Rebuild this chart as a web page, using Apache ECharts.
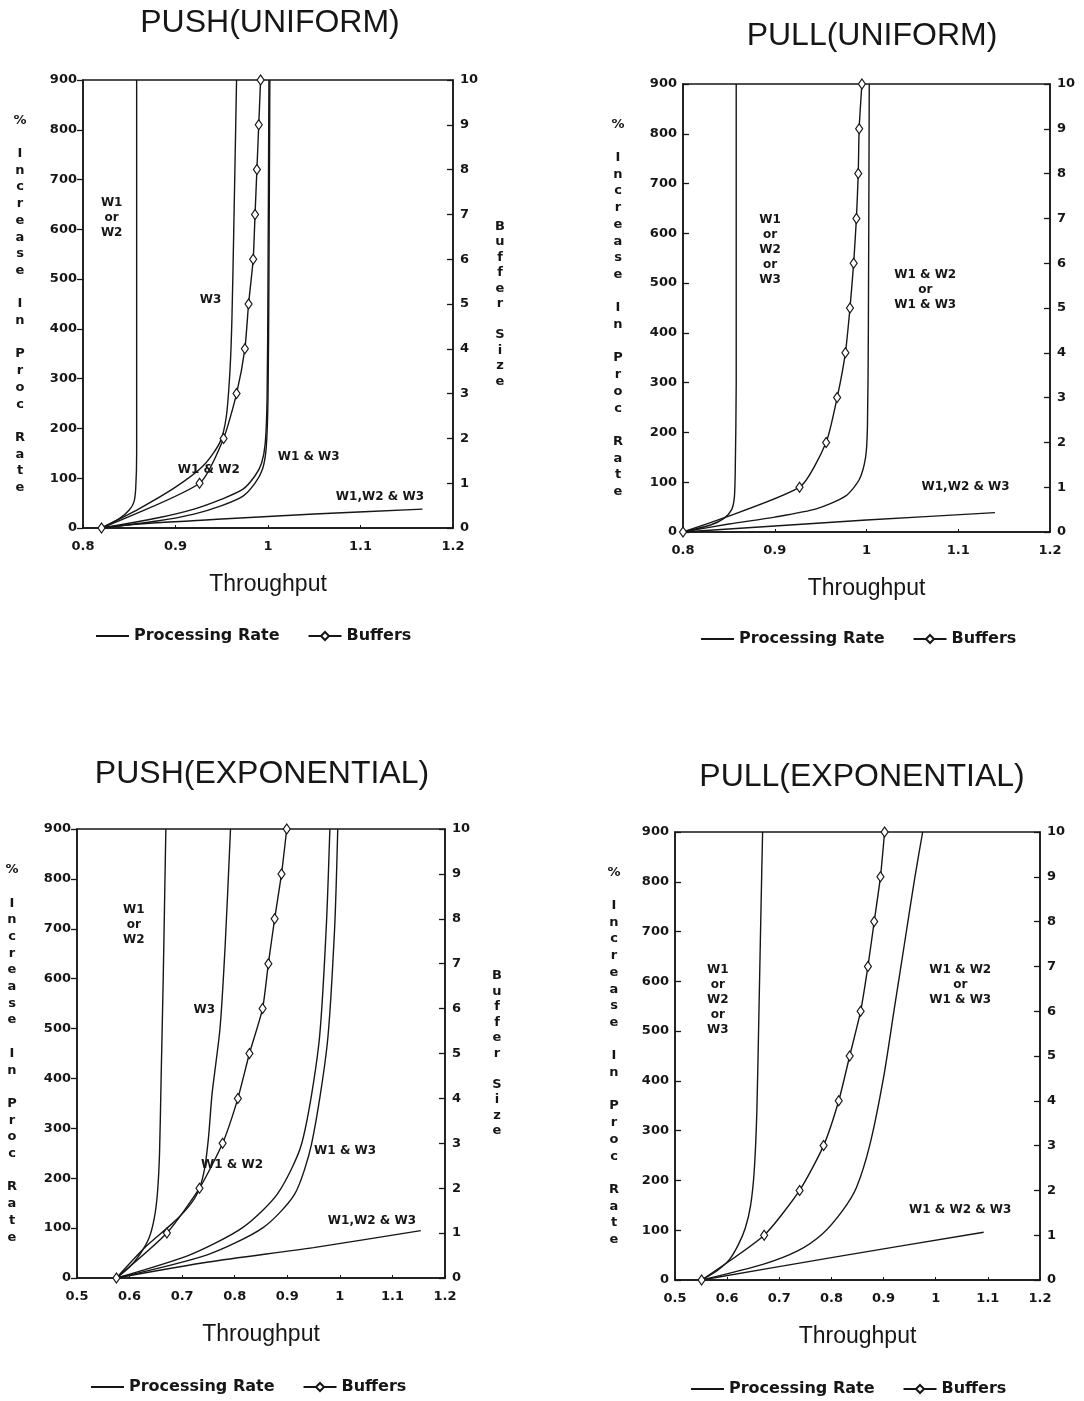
<!DOCTYPE html>
<html>
<head>
<meta charset="utf-8">
<title>Push / Pull throughput</title>
<script src="https://cdn.jsdelivr.net/npm/echarts@6/dist/echarts.min.js"></script>
<style>
  html, body { margin: 0; padding: 0; background: #fff; }
  #chart { width: 1084px; height: 1401px; }
</style>
</head>
<body>
<div id="chart"></div>
<script>
// axis ticks
const leftTicks = [0, 100, 200, 300, 400, 500, 600, 700, 800, 900];
const rightTicks = [0, 1, 2, 3, 4, 5, 6, 7, 8, 9, 10];
const xTicksUniform = [0.8, 0.9, 1, 1.1, 1.2];
const xTicksExp = [0.5, 0.6, 0.7, 0.8, 0.9, 1, 1.1, 1.2];

// PUSH(UNIFORM) : [throughput, % increase]  /  buffers : [throughput, buffer size]
const pushUniW1orW2 = [[0.82, 0], [0.84, 20], [0.85, 36], [0.855, 52], [0.857, 80], [0.858, 150], [0.858, 900]];
const pushUniW3 = [[0.82, 0], [0.86, 38], [0.9, 82], [0.93, 125], [0.948, 172], [0.955, 225], [0.959, 320], [0.961, 420], [0.963, 600], [0.966, 900]];
const pushUniW1W2 = [[0.82, 0], [0.88, 20], [0.92, 38], [0.95, 58], [0.973, 78], [0.986, 105], [0.993, 130], [0.997, 170], [0.999, 260], [1.0, 500], [1.001, 900]];
const pushUniW1W3 = [[0.82, 0], [0.88, 14], [0.92, 28], [0.95, 45], [0.973, 64], [0.986, 90], [0.994, 118], [0.998, 160], [1.0, 260], [1.001, 500], [1.002, 900]];
const pushUniAll = [[0.82, 0], [0.86, 8], [0.95, 18], [1.05, 28], [1.167, 38]];
const pushUniBuffers = [[0.82, 0], [0.926, 1], [0.952, 2], [0.966, 3], [0.975, 4], [0.979, 5], [0.984, 6], [0.986, 7], [0.988, 8], [0.99, 9], [0.992, 10]];
const pushUniNotes = [[0.831, 623, 'W1\nor\nW2'], [0.938, 458, 'W3'], [0.936, 117, 'W1 & W2'], [1.044, 143, 'W1 & W3'], [1.121, 62, 'W1,W2 & W3']];

// PULL(UNIFORM)
const pullUniW123 = [[0.8, 0], [0.83, 14], [0.845, 28], [0.853, 45], [0.856, 70], [0.857, 130], [0.858, 300], [0.858, 900]];
const pullUniW1W2orW1W3 = [[0.8, 0], [0.85, 16], [0.9, 30], [0.946, 47], [0.977, 72], [0.992, 105], [0.999, 150], [1.001, 210], [1.002, 400], [1.003, 900]];
const pullUniAll = [[0.8, 0], [0.9, 12], [1.0, 24], [1.14, 39]];
const pullUniBuffers = [[0.8, 0], [0.927, 1], [0.956, 2], [0.968, 3], [0.977, 4], [0.982, 5], [0.986, 6], [0.989, 7], [0.991, 8], [0.992, 9], [0.995, 10]];
const pullUniNotes = [[0.895, 567, 'W1\nor\nW2\nor\nW3'], [1.064, 486, 'W1 & W2\nor\nW1 & W3'], [1.108, 90, 'W1,W2 & W3']];

// PUSH(EXPONENTIAL)
const pushExpW1orW2 = [[0.575, 0], [0.6, 22], [0.62, 48], [0.637, 80], [0.647, 120], [0.653, 170], [0.657, 250], [0.66, 400], [0.664, 600], [0.669, 900]];
const pushExpW3 = [[0.575, 0], [0.63, 62], [0.68, 108], [0.71, 140], [0.73, 172], [0.742, 215], [0.75, 280], [0.757, 370], [0.772, 500], [0.782, 670], [0.792, 900]];
const pushExpW1W2 = [[0.575, 0], [0.716, 47], [0.815, 101], [0.881, 168], [0.927, 268], [0.96, 469], [0.974, 700], [0.981, 900]];
const pushExpW1W3 = [[0.575, 0], [0.749, 47], [0.854, 101], [0.914, 168], [0.946, 268], [0.976, 469], [0.99, 700], [0.996, 900]];
const pushExpAll = [[0.575, 0], [0.75, 32], [0.95, 61], [1.154, 95]];
const pushExpBuffers = [[0.575, 0], [0.671, 1], [0.733, 2], [0.777, 3], [0.806, 4], [0.828, 5], [0.853, 6], [0.864, 7], [0.876, 8], [0.889, 9], [0.899, 10]];
const pushExpNotes = [[0.608, 708, 'W1\nor\nW2'], [0.742, 537, 'W3'], [0.795, 226, 'W1 & W2'], [1.01, 255, 'W1 & W3'], [1.061, 114, 'W1,W2 & W3']];

// PULL(EXPONENTIAL)
const pullExpW123 = [[0.551, 0], [0.58, 18], [0.605, 42], [0.622, 72], [0.635, 105], [0.645, 150], [0.652, 220], [0.657, 340], [0.661, 540], [0.665, 750], [0.668, 900]];
const pullExpW1W2orW1W3 = [[0.551, 0], [0.67, 32], [0.736, 59], [0.782, 92], [0.821, 139], [0.848, 186], [0.874, 273], [0.9, 407], [0.92, 541], [0.94, 675], [0.96, 809], [0.975, 900]];
const pullExpAll = [[0.551, 0], [0.8, 45], [1.092, 96]];
const pullExpBuffers = [[0.551, 0], [0.671, 1], [0.739, 2], [0.785, 3], [0.814, 4], [0.835, 5], [0.856, 6], [0.87, 7], [0.882, 8], [0.894, 9], [0.902, 10]];
const pullExpNotes = [[0.582, 562, 'W1\nor\nW2\nor\nW3'], [1.047, 592, 'W1 & W2\nor\nW1 & W3'], [1.047, 141, 'W1 & W2 & W3']];

const INK = '#161616';
const BOLD = { fontFamily: 'DejaVu Sans', fontWeight: 'bold', color: INK };

// stacked letters, like the typed axis titles
const stack = (s) => s.split(' ').map((w) => w.split('').join('\n')).join('\n\n');

const panels = [
  {
    title: 'PUSH(UNIFORM)', titleX: 270, titleY: 7,
    grid: { left: 83, top: 80, width: 370, height: 448 },
    xTicks: xTicksUniform, leftOut: true, leftNameGap: 63, rightNameGap: 47,
    legend: { left: 95, top: 628 },
    curves: [pushUniW1orW2, pushUniW3, pushUniW1W2, pushUniW1W3, pushUniAll],
    buffers: pushUniBuffers, notes: pushUniNotes,
  },
  {
    title: 'PULL(UNIFORM)', titleX: 872, titleY: 20,
    grid: { left: 683, top: 84, width: 367, height: 448 },
    xTicks: xTicksUniform, leftOut: false, leftNameGap: 65, rightNameGap: null,
    legend: { left: 700, top: 631 },
    curves: [pullUniW123, pullUniW1W2orW1W3, pullUniAll],
    buffers: pullUniBuffers, notes: pullUniNotes,
  },
  {
    title: 'PUSH(EXPONENTIAL)', titleX: 262, titleY: 758,
    grid: { left: 77, top: 829, width: 368, height: 449 },
    xTicks: xTicksExp, leftOut: true, leftNameGap: 65, rightNameGap: 52,
    legend: { left: 90, top: 1379 },
    curves: [pushExpW1orW2, pushExpW3, pushExpW1W2, pushExpW1W3, pushExpAll],
    buffers: pushExpBuffers, notes: pushExpNotes,
  },
  {
    title: 'PULL(EXPONENTIAL)', titleX: 862, titleY: 761,
    grid: { left: 675, top: 832, width: 365, height: 448 },
    xTicks: xTicksExp, leftOut: false, leftNameGap: 61, rightNameGap: null,
    legend: { left: 690, top: 1381 },
    curves: [pullExpW123, pullExpW1W2orW1W3, pullExpAll],
    buffers: pullExpBuffers, notes: pullExpNotes,
  },
];

const option = {
  animation: false,
  backgroundColor: '#fff',
  title: [],
  grid: [],
  xAxis: [],
  yAxis: [],
  legend: [],
  series: [],
};

panels.forEach((p, i) => {
  option.title.push({
    text: p.title,
    left: p.titleX,
    top: p.titleY,
    textAlign: 'center',
    padding: 0,
    textStyle: { fontFamily: 'Liberation Sans', fontSize: 32, fontWeight: 'normal', color: INK },
  });

  option.grid.push({
    ...p.grid,
    show: true,
    borderColor: INK,
    borderWidth: 1.5,
    backgroundColor: 'transparent',
    outerBoundsMode: 'none',
  });

  option.xAxis.push({
    type: 'value',
    gridIndex: i,
    min: p.xTicks[0],
    max: p.xTicks[p.xTicks.length - 1],
    interval: 0.1,
    axisLine: { show: true, lineStyle: { color: INK, width: 1.5 } },
    axisTick: { show: true, inside: true, length: 3, lineStyle: { color: INK } },
    axisLabel: { ...BOLD, fontSize: 13, margin: 12 },
    splitLine: { show: false },
    name: 'Throughput',
    nameLocation: 'middle',
    nameGap: 45,
    nameTextStyle: { fontFamily: 'Liberation Sans', fontSize: 23, color: INK },
  });

  option.yAxis.push({
    type: 'value',
    gridIndex: i,
    position: 'left',
    min: leftTicks[0],
    max: leftTicks[leftTicks.length - 1],
    interval: leftTicks[1] - leftTicks[0],
    axisLine: { show: true, lineStyle: { color: INK, width: 1.5 } },
    axisTick: { show: true, inside: !p.leftOut, length: 6, lineStyle: { color: INK, width: 1.3 } },
    axisLabel: { ...BOLD, fontSize: 13, margin: 6 },
    splitLine: { show: false },
    name: stack('% Increase In Proc Rate'),
    nameLocation: 'middle',
    nameRotate: 0,
    nameGap: p.leftNameGap,
    nameMoveOverlap: false,
    nameTextStyle: { ...BOLD, fontSize: 13, lineHeight: 16.7, align: 'center', verticalAlign: 'middle' },
  });

  const right = {
    type: 'value',
    gridIndex: i,
    position: 'right',
    min: rightTicks[0],
    max: rightTicks[rightTicks.length - 1],
    interval: rightTicks[1] - rightTicks[0],
    axisLine: { show: true, lineStyle: { color: INK, width: 1.5 } },
    axisTick: { show: true, inside: true, length: 6, lineStyle: { color: INK, width: 1.3 } },
    axisLabel: { ...BOLD, fontSize: 13, margin: 7 },
    splitLine: { show: false },
  };
  if (p.rightNameGap) {
    Object.assign(right, {
      name: stack('Buffer Size'),
      nameLocation: 'middle',
      nameRotate: 0,
      nameGap: p.rightNameGap,
      nameMoveOverlap: false,
      nameTextStyle: { ...BOLD, fontSize: 13, lineHeight: 15.5, align: 'center', verticalAlign: 'middle' },
    });
  }
  option.yAxis.push(right);

  option.legend.push({
    left: p.legend.left,
    top: p.legend.top,
    padding: 0,
    itemWidth: 33,
    itemHeight: 10,
    itemGap: 28,
    data: [{ name: 'Processing Rate', itemStyle: { opacity: 0 } }, 'Buffers'],
    textStyle: { ...BOLD, fontSize: 16 },
  });

  p.curves.forEach((c) => {
    option.series.push({
      name: 'Processing Rate',
      type: 'line',
      xAxisIndex: i,
      yAxisIndex: 2 * i,
      data: c,
      symbol: 'none',
      smooth: 0.25,
      lineStyle: { color: INK, width: 1.4 },
      itemStyle: { color: INK },
      silent: true,
    });
  });

  option.series.push({
    name: 'Buffers',
    type: 'line',
    xAxisIndex: i,
    yAxisIndex: 2 * i + 1,
    data: p.buffers,
    symbol: 'diamond',
    symbolSize: [7, 10],
    showAllSymbol: true,
    smooth: 0.2,
    lineStyle: { color: INK, width: 1.4 },
    itemStyle: { color: '#fff', borderColor: INK, borderWidth: 1.2 },
    silent: true,
  });

  option.series.push({
    name: 'notes',
    type: 'scatter',
    xAxisIndex: i,
    yAxisIndex: 2 * i,
    symbolSize: 0,
    itemStyle: { color: INK },
    data: p.notes.map((n) => ({ value: [n[0], n[1]], name: n[2] })),
    label: {
      show: true,
      position: 'inside',
      formatter: '{b}',
      ...BOLD,
      fontSize: 12,
      lineHeight: 15,
      align: 'center',
      verticalAlign: 'middle',
      textBorderWidth: 0,
      opacity: 1,
    },
    silent: true,
    z: 5,
  });
});

const chart = echarts.init(document.getElementById('chart'), null, { renderer: 'canvas' });
chart.setOption(option);
</script>
</body>
</html>
